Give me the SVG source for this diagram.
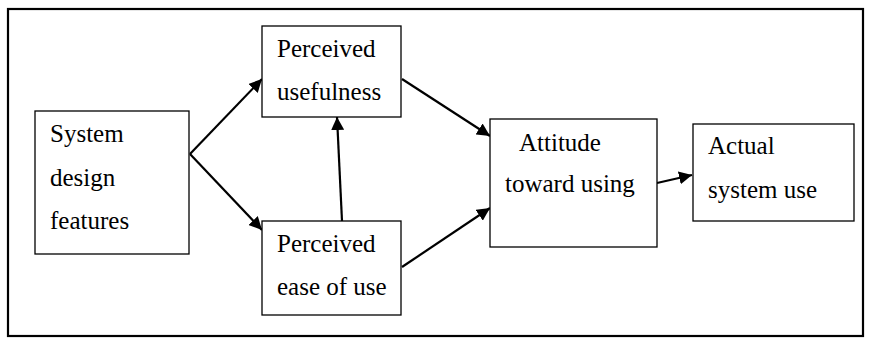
<svg xmlns="http://www.w3.org/2000/svg" width="876" height="343" viewBox="0 0 876 343">
<style>
.box{fill:#fff;stroke:#000;stroke-width:1.3}
.t{font-family:'Liberation Serif','Times New Roman',serif;font-size:25px;fill:#000}
.c{stroke:#000;stroke-width:2.2;fill:none;marker-end:url(#ah)}
</style>
<defs>
<marker id="ah" viewBox="0 0 10 10" refX="10" refY="5" markerWidth="13" markerHeight="13" markerUnits="userSpaceOnUse" orient="auto">
<path d="M0,0 L10,5 L0,10 Z" fill="#000"/>
</marker>
</defs>
<rect x="0" y="0" width="876" height="343" fill="#fff"/>
<rect x="8" y="9" width="855" height="327" fill="none" stroke="#000" stroke-width="2.2"/>
<g id="connectors">
<line class="c" x1="190" y1="154" x2="262" y2="79"/>
<line class="c" x1="190" y1="154" x2="262" y2="230"/>
<line class="c" x1="342" y1="221" x2="337" y2="117"/>
<line class="c" x1="402" y1="79" x2="490" y2="136"/>
<line class="c" x1="402" y1="267" x2="490" y2="208"/>
<line class="c" x1="657" y1="183" x2="692" y2="175"/>
</g>
<g id="system">
<rect class="box" x="35" y="111" width="154" height="143"/>
<text class="t" x="50" y="142">System</text>
<text class="t" x="50" y="186">design</text>
<text class="t" x="50" y="229">features</text>
</g>
<g id="pu">
<rect class="box" x="262" y="26" width="139" height="91"/>
<text class="t" x="277" y="57">Perceived</text>
<text class="t" x="277" y="100">usefulness</text>
</g>
<g id="peou">
<rect class="box" x="262" y="221" width="139" height="94"/>
<text class="t" x="277" y="252">Perceived</text>
<text class="t" x="277" y="295">ease of use</text>
</g>
<g id="attitude">
<rect class="box" x="490" y="119" width="167" height="128"/>
<text class="t" x="519" y="151">Attitude</text>
<text class="t" x="505" y="192">toward using</text>
</g>
<g id="actual">
<rect class="box" x="693" y="124" width="161" height="97"/>
<text class="t" x="708" y="154">Actual</text>
<text class="t" x="708" y="198">system use</text>
</g>
</svg>
